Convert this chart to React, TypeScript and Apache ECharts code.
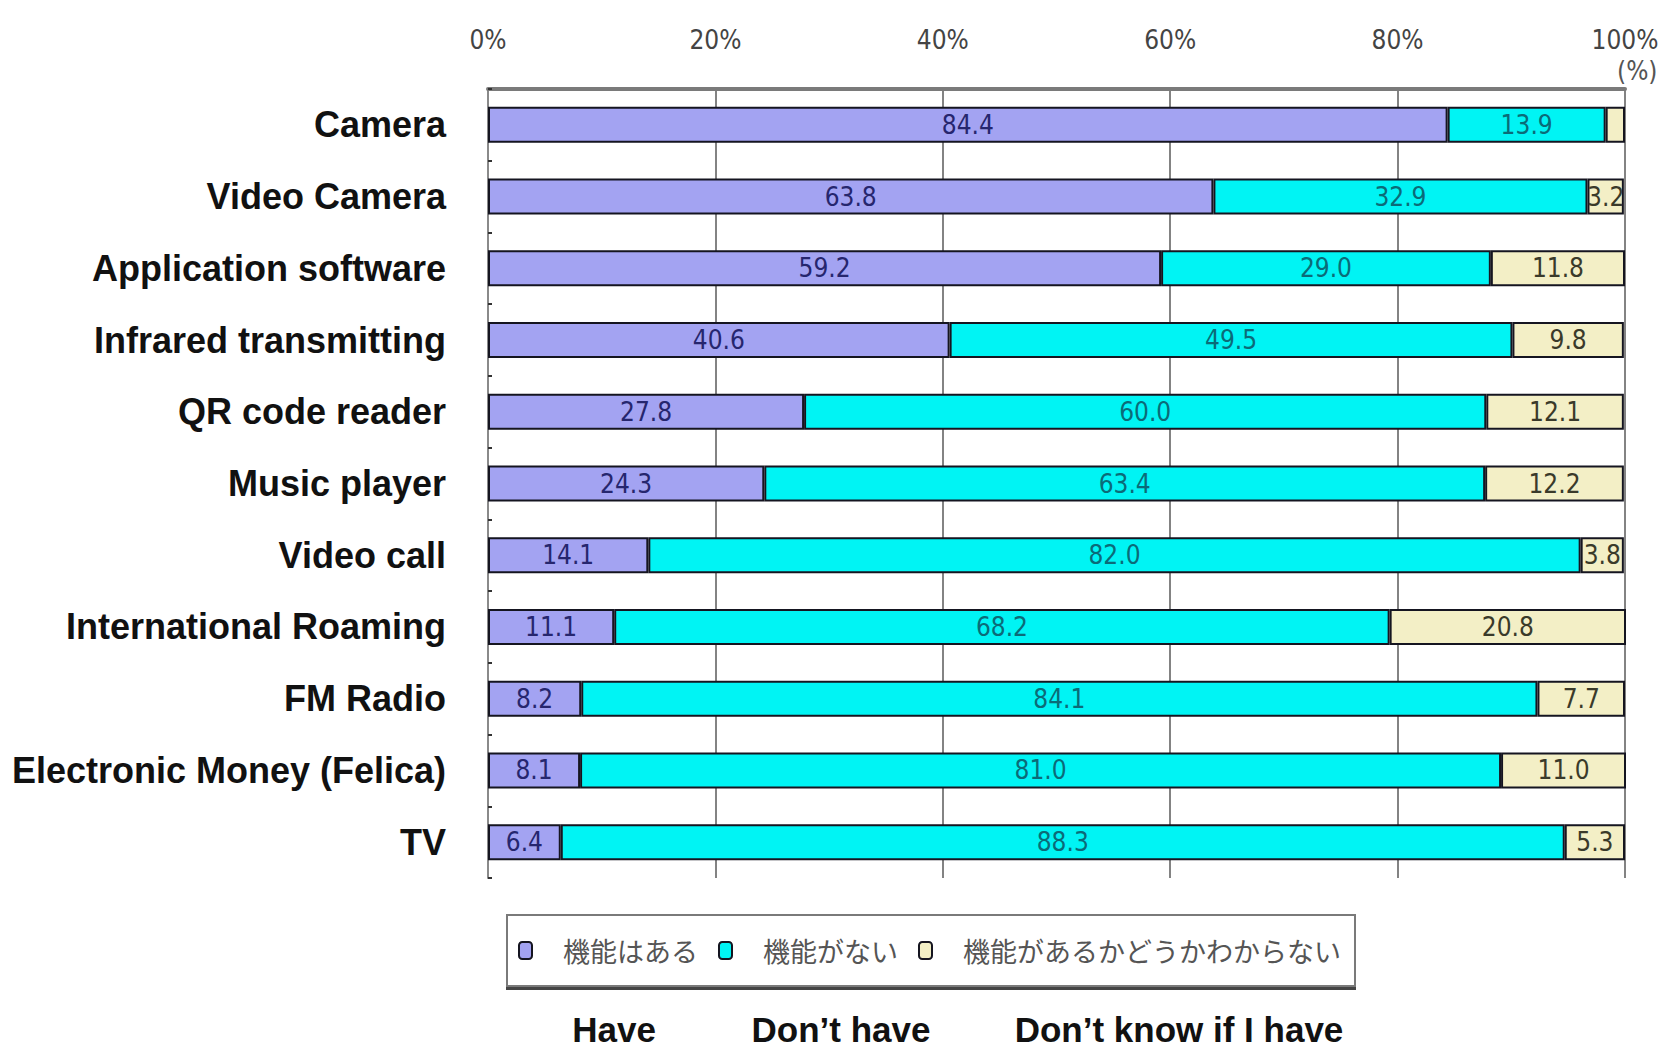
import React, { useEffect, useRef } from "react";
import * as echarts from "echarts";

const categories = [
  "Camera",
  "Video Camera",
  "Application software",
  "Infrared transmitting",
  "QR code reader",
  "Music player",
  "Video call",
  "International Roaming",
  "FM Radio",
  "Electronic Money (Felica)",
  "TV",
];
const haveValues = [84.4, 63.8, 59.2, 40.6, 27.8, 24.3, 14.1, 11.1, 8.2, 8.1, 6.4];
const dontHaveValues = [13.9, 32.9, 29.0, 49.5, 60.0, 63.4, 82.0, 68.2, 84.1, 81.0, 88.3];
const unknownValues = [1.7, 3.2, 11.8, 9.8, 12.1, 12.2, 3.8, 20.8, 7.7, 11.0, 5.3];
const seriesNames = ["機能はある", "機能がない", "機能があるかどうかわからない"];
const englishNames = ["Have", "Don’t have", "Don’t know if I have"];
const unitLabel = "(%)";

const NARROW = "'Liberation Sans Narrow', 'DejaVu Sans Condensed', 'Arial Narrow', sans-serif";
const BOLD = "'Liberation Sans', Arial, Helvetica, sans-serif";

export default function App() {
  const ref = useRef<HTMLDivElement>(null);
  useEffect(() => {
    if (!ref.current) return;
    const chart = echarts.init(ref.current, undefined, { renderer: "svg" });
    const colors = ["#a3a3f2", "#00f4f4", "#f3efc6"];
    const labelColors = ["#26266e", "#0b6b78", "#3a3a2a"];
    const seriesValues = [haveValues, dontHaveValues, unknownValues];
    const series = seriesValues.map((vals, i) => ({
      name: seriesNames[i],
      type: "bar",
      stack: "total",
      barWidth: 36,
      data: vals,
      itemStyle: { color: colors[i], borderColor: "#151520", borderWidth: 2 },
      label: {
        show: true,
        position: "inside",
        fontFamily: NARROW,
        fontSize: 26,
        color: labelColors[i],
        formatter: (p: any) => (p.value < 2 ? "" : Number(p.value).toFixed(1)),
      },
    }));
    const englishCenters = [614, 841, 1179];
    chart.setOption({
      animation: false,
      backgroundColor: "#ffffff",
      grid: { left: 488, right: 39, top: 89, bottom: 172, containLabel: false },
      xAxis: {
        type: "value",
        position: "top",
        min: 0,
        max: 100,
        interval: 20,
        axisLine: { show: true, lineStyle: { color: "#7a7a7a", width: 4 } },
        axisTick: { show: false },
        axisLabel: {
          formatter: "{value}%",
          fontFamily: NARROW,
          fontSize: 26,
          color: "#444",
          margin: 36,
        },
        splitLine: { show: true, lineStyle: { color: "#5a5a5a", width: 1.5 } },
      },
      yAxis: {
        type: "category",
        inverse: true,
        data: categories,
        axisLine: { show: true, lineStyle: { color: "#8a8a8a", width: 2 } },
        axisTick: { show: true, inside: true, length: 4, lineStyle: { color: "#333", width: 2 } },
        axisLabel: {
          fontFamily: BOLD,
          fontWeight: "bold",
          fontSize: 36,
          color: "#111",
          margin: 42,
        },
      },
      legend: {
        left: 507,
        top: 915,
        orient: "horizontal",
        data: seriesNames,
        itemWidth: 13,
        itemHeight: 17,
        itemGap: 20,
        padding: [22, 14, 22, 11],
        borderColor: "#7a7a7a",
        borderWidth: 2,
        backgroundColor: "#ffffff",
        shadowColor: "#444",
        shadowOffsetY: 3,
        shadowBlur: 0,
        selectedMode: false,
        textStyle: {
          fontFamily: "'Noto Sans CJK JP', sans-serif",
          fontSize: 27,
          color: "#555",
          padding: [0, 0, 0, 26],
        },
      },
      graphic: [
        ...englishNames.map((t, i) => ({
          type: "text",
          x: englishCenters[i],
          y: 1029,
          style: {
            text: t,
            fontFamily: BOLD,
            fontWeight: "bold",
            fontSize: 35,
            lineHeight: 36,
            fill: "#111",
            align: "center",
            verticalAlign: "middle",
          },
        })),
        {
          type: "text",
          left: 1617,
          top: 58,
          style: { text: unitLabel, fontFamily: NARROW, fontSize: 26, fill: "#555" },
        },
      ],
      series,
    });
    return () => chart.dispose();
  }, []);
  return (
    <div
      ref={ref}
      style={{ position: "fixed", left: 0, top: 0, width: 1664, height: 1050 }}
    />
  );
}
